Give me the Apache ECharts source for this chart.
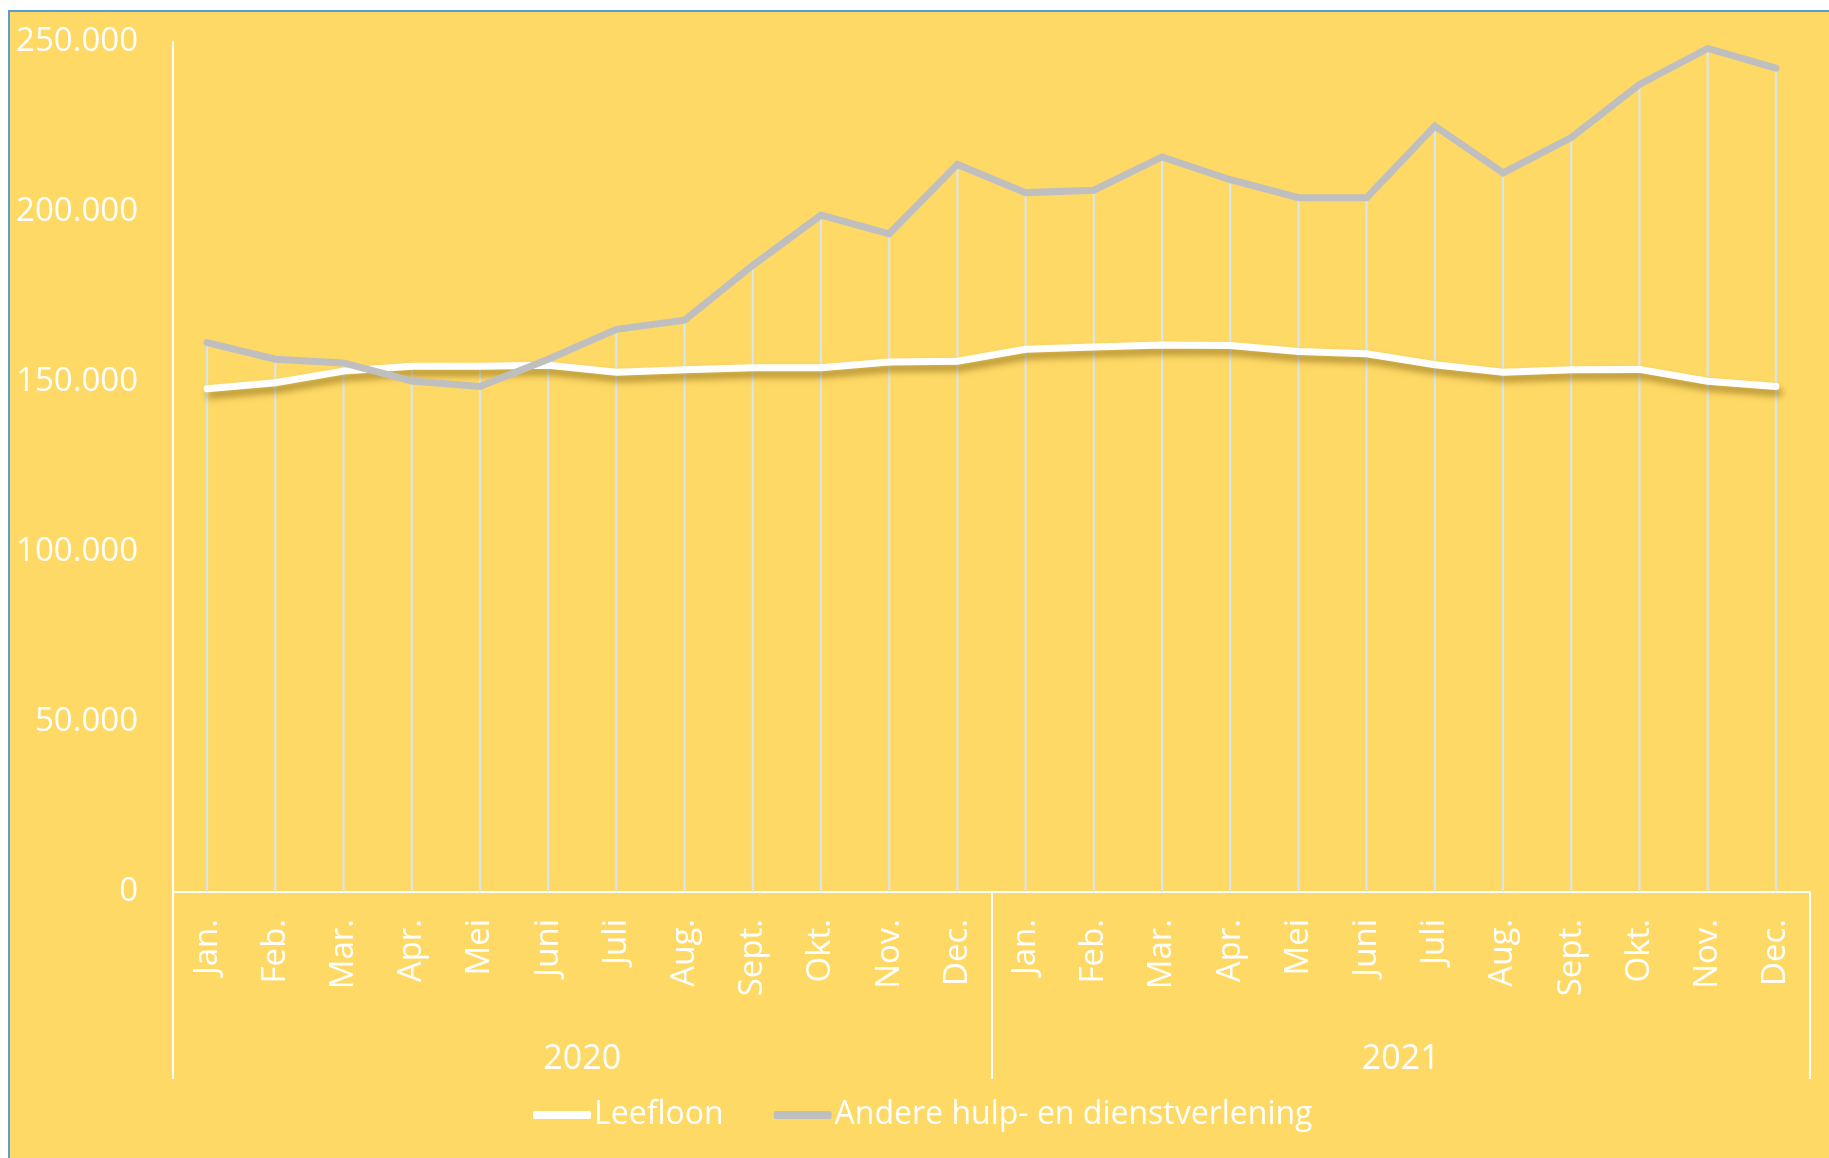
<!DOCTYPE html>
<head>
    <meta charset="utf-8">
    <title>Leefloon en andere hulp</title>
    <script type="text/javascript" src="https://cdn.jsdelivr.net/npm/echarts@6/dist/echarts.min.js"></script>
    <style>
        body { margin:0; background:#ffffff; }
        #frame { position:absolute; left:8px; top:10px; right:0; bottom:0;
                 background:#FFD966; border-top:2px solid #5B9BD5; border-left:2px solid #5B9BD5; }
        #chart { position:absolute; left:0; top:0; width:1829px; height:1158px; }
    </style>
</head>
<body>
    <div id="frame"></div>
    <div id="chart"></div>

<script type="text/javascript">
    // maanden (2 jaren)
    var months = ['Jan.','Feb.','Mar.','Apr.','Mei','Juni','Juli','Aug.','Sept.','Okt.','Nov.','Dec.',
                  'Jan.','Feb.','Mar.','Apr.','Mei','Juni','Juli','Aug.','Sept.','Okt.','Nov.','Dec.'];
    var years = ['2020','2021'];

    // Leefloon
    var leefloon = [148000,149800,153200,154600,154600,154900,152900,153600,154200,154200,155900,156100,
                    159600,160300,160900,160700,159000,158300,155100,152900,153600,153700,150200,148700];
    // Andere hulp- en dienstverlening
    var andere = [161600,156700,155600,150300,148700,156700,165500,168200,184300,199100,193600,214000,
                  205700,206400,216200,209500,204200,204200,225300,211500,221900,237500,248100,242300];

    // droplijnen: van hoogste punt naar de as
    var drops = [];
    for (var i = 0; i < months.length; i++) {
        drops.push(Math.max(leefloon[i], andere[i]));
    }

    function fmt(v) {
        return String(v).replace(/\B(?=(\d{3})+(?!\d))/g, '.');
    }

    var chart = echarts.init(document.getElementById('chart'));
    chart.setOption({
        backgroundColor: 'transparent',
        animation: false,
        textStyle: { fontFamily: 'Open Sans' },
        grid: { left:173, right:19, top:42, bottom:266, containLabel:false, outerBoundsMode:'none' },
        legend: {
            data: ['Leefloon','Andere hulp- en dienstverlening'],
            left: 528,
            top: 1094,
            icon: 'roundRect',
            itemWidth: 58,
            itemHeight: 8,
            itemGap: 50,
            textStyle: { color:'#ffffff', fontSize:32, fontFamily:'Open Sans', padding:[0,0,0,-2] }
        },
        xAxis: [{
            type: 'category',
            data: months,
            position: 'bottom',
            axisLine: { show:true, lineStyle:{ color:'#ffffff', width:2 } },
            axisTick: { show:false },
            axisLabel: { interval:0, rotate:90, margin:27, color:'#ffffff', fontSize:33, fontFamily:'Open Sans' },
            splitLine: { show:false }
        },{
            type: 'category',
            data: years,
            position: 'bottom',
            offset: 0,
            axisLine: { show:false },
            axisTick: { show:true, interval:0, length:187, lineStyle:{ color:'#ffffff', width:2 } },
            axisLabel: { interval:0, margin:167, verticalAlign:'middle', color:'#ffffff', fontSize:34, fontFamily:'Open Sans' },
            splitLine: { show:false }
        }],
        yAxis: {
            type: 'value',
            min: 0,
            max: 250000,
            interval: 50000,
            axisLine: { show:true, lineStyle:{ color:'#ffffff', width:2 } },
            axisTick: { show:false },
            splitLine: { show:false },
            axisLabel: { margin:35, color:'#ffffff', fontSize:33, fontFamily:'Open Sans', formatter: fmt }
        },
        series: [
            {
                name: 'drop',
                type: 'bar',
                data: drops,
                barWidth: 2,
                silent: true,
                z: 1,
                itemStyle: { color:'#D6E6F5' }
            },
            {
                name: 'Leefloon',
                type: 'line',
                data: leefloon,
                symbol: 'none',
                z: 3,
                itemStyle: { color:'#ffffff' },
                lineStyle: {
                    color:'#ffffff', width:7, cap:'round', join:'miter',
                    shadowColor:'rgba(110,80,0,0.55)', shadowBlur:7, shadowOffsetX:3, shadowOffsetY:6
                }
            },
            {
                name: 'Andere hulp- en dienstverlening',
                type: 'line',
                data: andere,
                symbol: 'none',
                z: 4,
                itemStyle: { color:'#BFBFBF' },
                lineStyle: { color:'#BFBFBF', width:7, cap:'round', join:'miter' }
            }
        ]
    });
</script>
</body>
